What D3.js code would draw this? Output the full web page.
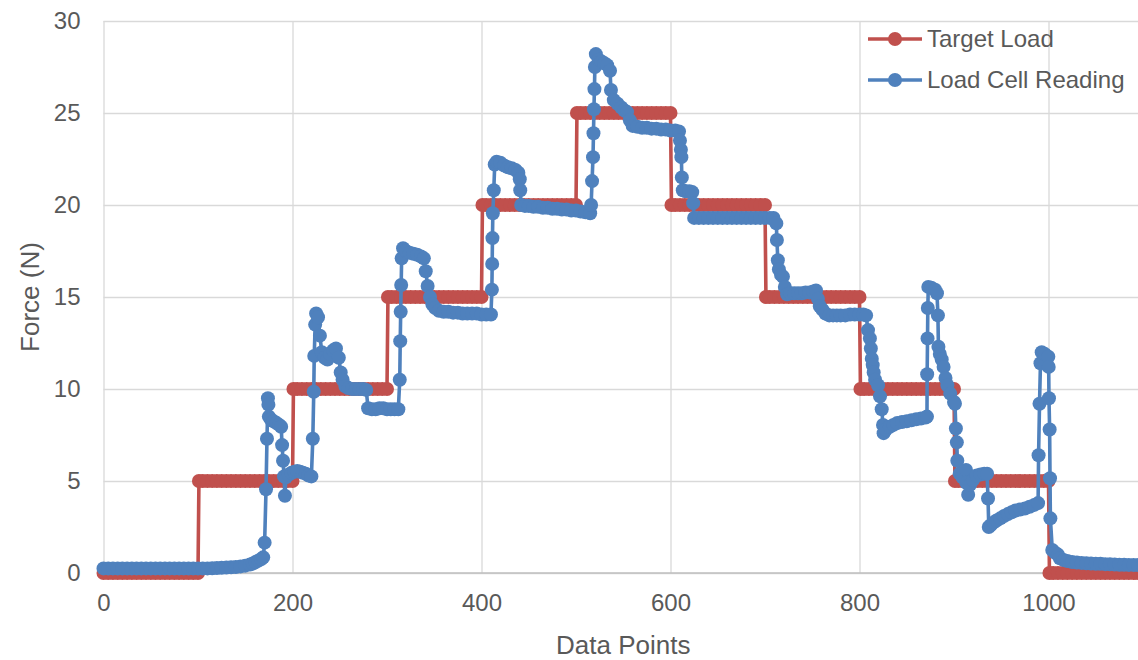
<!DOCTYPE html>
<html>
<head>
<meta charset="utf-8">
<script src="https://cdn.jsdelivr.net/npm/d3@7"></script>
<style>
  body { margin: 0; background: #fff; }
  svg text { font-family: "Liberation Sans", Arial, sans-serif; fill: #595959; }
</style>
</head>
<body>
<svg id="chart"></svg>
<script>
// axis ticks
var xTicks = [0, 200, 400, 600, 800, 1000];
var yTicks = [0, 5, 10, 15, 20, 25, 30];

// Target Load, [data point, force N]
var targetLoad = [
  [0,0],[5,0],[10,0],[15,0],[20,0],[25,0],[30,0],[35,0],[40,0],[45,0],[50,0],[55,0],[60,0],[65,0],[70,0],[75,0],[80,0],[85,0],[90,0],[95,0],[100,0],
  [101,5],[105,5],[110,5],[115,5],[120,5],[125,5],[130,5],[135,5],[140,5],[145,5],[150,5],[155,5],[160,5],[165,5],[170,5],[175,5],[180,5],[185,5],[190,5],[195,5],[200,5],
  [201,10],[205,10],[210,10],[215,10],[220,10],[225,10],[230,10],[235,10],[240,10],[245,10],[250,10],[255,10],[260,10],[265,10],[270,10],[275,10],[280,10],[285,10],[290,10],[295,10],[300,10],
  [301,15],[305,15],[310,15],[315,15],[320,15],[325,15],[330,15],[335,15],[340,15],[345,15],[350,15],[355,15],[360,15],[365,15],[370,15],[375,15],[380,15],[385,15],[390,15],[395,15],[400,15],
  [401,20],[405,20],[410,20],[415,20],[420,20],[425,20],[430,20],[435,20],[440,20],[445,20],[450,20],[455,20],[460,20],[465,20],[470,20],[475,20],[480,20],[485,20],[490,20],[495,20],[500,20],
  [501,25],[505,25],[510,25],[515,25],[520,25],[525,25],[530,25],[535,25],[540,25],[545,25],[550,25],[555,25],[560,25],[565,25],[570,25],[575,25],[580,25],[585,25],[590,25],[595,25],[600,25],
  [601,20],[605,20],[610,20],[615,20],[620,20],[625,20],[630,20],[635,20],[640,20],[645,20],[650,20],[655,20],[660,20],[665,20],[670,20],[675,20],[680,20],[685,20],[690,20],[695,20],[700,20],
  [701,15],[705,15],[710,15],[715,15],[720,15],[725,15],[730,15],[735,15],[740,15],[745,15],[750,15],[755,15],[760,15],[765,15],[770,15],[775,15],[780,15],[785,15],[790,15],[795,15],[800,15],
  [801,10],[805,10],[810,10],[815,10],[820,10],[825,10],[830,10],[835,10],[840,10],[845,10],[850,10],[855,10],[860,10],[865,10],[870,10],[875,10],[880,10],[885,10],[890,10],[895,10],[900,10],
  [901,5],[905,5],[910,5],[915,5],[920,5],[925,5],[930,5],[935,5],[940,5],[945,5],[950,5],[955,5],[960,5],[965,5],[970,5],[975,5],[980,5],[985,5],[990,5],[995,5],[1000,5],
  [1001,0],[1005,0],[1010,0],[1015,0],[1020,0],[1025,0],[1030,0],[1035,0],[1040,0],[1045,0],[1050,0],[1055,0],[1060,0],[1065,0],[1070,0],[1075,0],[1080,0],[1085,0],[1090,0],[1095,0],[1100,0]
];

// Load Cell Reading, [data point, force N]
var loadCell = [
  [0,0.25],[5,0.25],[10,0.25],[15,0.25],[20,0.25],[25,0.25],[30,0.25],[35,0.25],[40,0.25],[45,0.25],[50,0.25],[55,0.25],[60,0.25],[65,0.25],[70,0.25],[75,0.25],[80,0.25],[85,0.25],[90,0.25],[95,0.25],[100,0.25],
  [105,0.25],[110,0.25],[115,0.26],[120,0.27],[125,0.28],[130,0.3],[135,0.31],[140,0.33],[145,0.36],[150,0.4],[155,0.46],[158,0.52],[161,0.6],[164,0.68],[167,0.76],[169,0.85],
  [170.5,1.65],[172,4.55],[173,7.3],[174,9.5],[174.5,9.15],[175,8.5],[177,8.35],[180,8.25],[183,8.15],[186,8.05],[188,7.95],[189,6.95],[190,6.1],[191,5.25],[192,4.2],[193,5.2],
  [196,5.35],[199,5.45],[202,5.5],[205,5.55],[208,5.5],[211,5.45],[214,5.4],[217,5.3],[220,5.25],
  [221.5,7.3],[222.5,9.85],[223,11.8],[224,13.5],[225,14.1],[227,13.9],[229,12.9],[231,12.0],[234,11.7],[237,11.6],[240,11.9],[243,12.1],[246,12.2],[249,11.7],[251,10.9],[253,10.5],
  [256,10.15],[259,10.05],[263,10],[267,10],[271,10],[275,10],[278,9.95],[280,8.95],[284,8.9],[288,8.9],[292,8.95],[296,8.95],[300,8.9],[304,8.9],[308,8.9],[312,8.9],
  [313.5,10.5],[314,12.6],[314.5,14.2],[315,15.65],[315.5,17.1],[317,17.65],[320,17.5],[324,17.4],[328,17.35],[332,17.3],[336,17.2],[339,17.1],[341,16.4],[343,15.6],[345.5,15],[348,14.6],[351,14.4],
  [355,14.25],[360,14.2],[365,14.2],[370,14.15],[375,14.15],[380,14.1],[385,14.1],[390,14.1],[395,14.1],[400,14.05],[405,14.05],[410,14.05],
  [411,15.4],[411.3,16.8],[411.6,18.2],[412,19.55],[413,20.8],[414,22.2],[416,22.35],[420,22.3],[424,22.15],[428,22.05],[432,22],[436,21.9],[439,21.75],[440.5,21.4],[441,20.8],[442,20],
  [446,19.95],[450,19.95],[455,19.9],[460,19.9],[465,19.85],[470,19.85],[475,19.8],[480,19.8],[485,19.75],[490,19.75],[495,19.7],[500,19.7],[505,19.65],[510,19.6],[515,19.55],
  [516,20],[517,21.3],[518,22.6],[518.5,23.9],[519,25.2],[519.5,26.3],[520,27.5],[521,28.2],[524,27.9],[527,27.8],[530,27.7],[533,27.6],[536,27.3],[537,26.25],[540,25.7],[544,25.5],[548,25.3],[551,25.15],[554,25.05],[557,24.6],
  [560,24.3],[565,24.25],[570,24.2],[575,24.2],[580,24.15],[585,24.15],[590,24.1],[595,24.1],[600,24.05],[605,24.05],[609,24],
  [610,23.5],[611,23],[611.5,22.6],[612,21.5],[613,20.8],[616,20.75],[620,20.75],[623,20.7],[624,20.1],[625,19.3],
  [630,19.3],[635,19.3],[640,19.3],[645,19.3],[650,19.3],[655,19.3],[660,19.3],[665,19.3],[670,19.3],[675,19.3],[680,19.3],[685,19.3],[690,19.3],[695,19.3],[700,19.3],[705,19.3],[709,19.3],
  [712,19],[712.6,18.1],[713.6,17],[714.7,16.5],[717,16.2],[719,16.1],[721,15.55],[723.4,15.15],[727,15.2],[731,15.2],[735,15.2],[739,15.2],[743,15.25],[747,15.25],[751,15.3],[754,15.35],
  [756,14.9],[758,14.5],[761,14.3],[764,14.1],[768,14],[772,14],[776,14],[780,14],[785,14],[790,14.05],[795,14.05],[800,14.05],[804,14.05],[807,14],
  [809,13.2],[811,12.75],[812,12.2],[813,11.65],[814,11.3],[815,10.9],[816.5,10.5],[819.6,10.2],[821.7,9.6],[823.5,8.9],[824.9,8.05],[825.5,7.6],
  [828,7.8],[832,7.95],[836,8.05],[840,8.15],[845,8.2],[850,8.25],[855,8.3],[860,8.35],[865,8.4],[870,8.45],[871.4,8.5],
  [871.6,10.8],[872,12.75],[872.3,14.4],[872.8,15.55],[876,15.5],[880,15.4],[882,15.2],[883,14],[883.5,12.3],[885,11.9],[887,11.6],[889,11.2],[891,10.6],[893,10.2],[896,9.75],[900,9.3],[901,9.2],
  [902,7.85],[903,7.1],[903.5,6.1],[906,5.4],[909,5.2],[912.7,5.6],[913,4.9],[915,4.25],[917,4.8],[920,5.05],[924,5.3],[928,5.35],[932,5.4],[935,5.4],[936,4.05],[936.8,2.5],
  [939,2.6],[942,2.75],[945,2.85],[949,2.97],[953,3.1],[957,3.2],[961,3.3],[965,3.4],[970,3.45],[975,3.5],[980,3.6],[985,3.7],[989,3.8],
  [989.5,6.4],[990.5,9.2],[991.5,11.4],[992.8,12],[996,11.9],[999.8,11.75],[1000.2,11.2],[1000.5,9.5],[1001.2,7.8],[1001.6,5.15],[1002,2.97],[1004,1.25],[1007,1.1],[1010,1],[1012,0.8],
  [1016,0.7],[1020,0.65],[1025,0.6],[1030,0.57],[1035,0.55],[1040,0.53],[1045,0.52],[1050,0.5],[1055,0.5],[1060,0.48],[1065,0.47],[1070,0.46],[1075,0.45],[1080,0.45],[1085,0.44],[1090,0.44],[1095,0.43],[1100,0.43]
];

var series = [
  { name: "Target Load", color: "#C0504D", values: targetLoad },
  { name: "Load Cell Reading", color: "#4F81BD", values: loadCell }
];

///some constants
var W = 1138, H = 660;
var margin = { top: 21, right: -5, bottom: 87, left: 103.5 };
var plotW = W - margin.left - margin.right;
var plotH = H - margin.top - margin.bottom;
var gridColor = "#d9d9d9";
var textColor = "#595959";
var markerR = 7;

var svg = d3.select("#chart")
  .attr("width", W)
  .attr("height", H);

var x = d3.scaleLinear().domain([0, 1100]).range([0, plotW]);
var y = d3.scaleLinear().domain([0, 30]).range([plotH, 0]);

var g = svg.append("g")
  .attr("transform", "translate(" + margin.left + "," + margin.top + ")");

//gridlines + tick labels
var yAxis = g.append("g")
  .call(d3.axisLeft(y).tickValues(yTicks).tickSize(-plotW).tickPadding(23));
yAxis.select(".domain").remove();
yAxis.selectAll(".tick line").attr("stroke", gridColor).attr("stroke-width", 1.3);
yAxis.selectAll(".tick text").attr("fill", textColor).style("font-size", "24px");

var xAxis = g.append("g")
  .attr("transform", "translate(0," + plotH + ")")
  .call(d3.axisBottom(x).tickValues(xTicks).tickFormat(d3.format("d")).tickSize(-plotH).tickPadding(21));
xAxis.select(".domain").remove();
xAxis.selectAll(".tick line").attr("stroke", gridColor).attr("stroke-width", 1.3);
xAxis.selectAll(".tick text").attr("fill", textColor).style("font-size", "24px");

//bottom axis line
g.append("line")
  .attr("x1", 0).attr("x2", plotW)
  .attr("y1", y(0)).attr("y2", y(0))
  .attr("stroke", "#bfbfbf")
  .attr("stroke-width", 1.5);

//series: line then markers
var line = d3.line()
  .x(function (d) { return x(d[0]); })
  .y(function (d) { return y(d[1]); });

series.forEach(function (s) {
  var sg = g.append("g");
  sg.append("path")
    .datum(s.values)
    .attr("fill", "none")
    .attr("stroke", s.color)
    .attr("stroke-width", 3.6)
    .attr("stroke-linejoin", "round")
    .attr("d", line);
  sg.selectAll("circle")
    .data(s.values)
    .enter().append("circle")
    .attr("cx", function (d) { return x(d[0]); })
    .attr("cy", function (d) { return y(d[1]); })
    .attr("r", markerR)
    .attr("fill", s.color);
});

//axis titles
svg.append("text")
  .attr("x", margin.left + plotW / 2)
  .attr("y", 654)
  .attr("text-anchor", "middle")
  .style("font-size", "26px")
  .text("Data Points");

svg.append("text")
  .attr("transform", "translate(39," + (margin.top + plotH / 2) + ") rotate(-90)")
  .attr("text-anchor", "middle")
  .style("font-size", "26px")
  .text("Force (N)");

//legend
var legend = svg.append("g").attr("transform", "translate(868,39)");
series.forEach(function (s, i) {
  var lg = legend.append("g").attr("transform", "translate(0," + (i * 41) + ")");
  lg.append("line")
    .attr("x1", 0).attr("x2", 54)
    .attr("stroke", s.color)
    .attr("stroke-width", 3.6);
  lg.append("circle")
    .attr("cx", 27).attr("r", markerR)
    .attr("fill", s.color);
  lg.append("text")
    .attr("x", 59)
    .attr("dy", "0.35em")
    .style("font-size", "24px")
    .text(s.name);
});
</script>
</body>
</html>
